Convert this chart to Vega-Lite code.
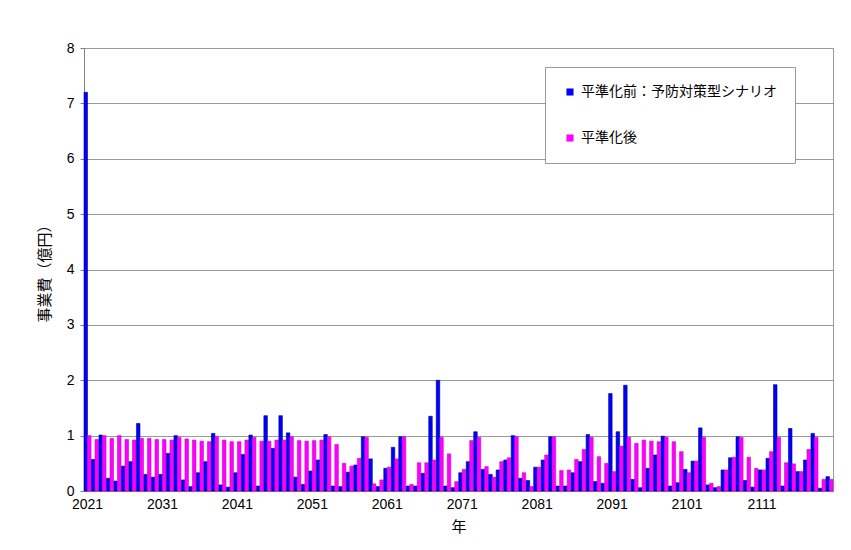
{
  "$schema": "https://vega.github.io/schema/vega-lite/v6.json",
  "autosize": {"type": "none"},
  "width": 749,
  "height": 443,
  "padding": {"left": 84, "top": 48, "right": 18, "bottom": 59},
  "background": "white",
  "config": {
    "view": {"stroke": "#9a9a9a", "strokeWidth": 1},
    "axis": {"labelFont": "Liberation Sans", "labelFontSize": 14, "labelColor": "#000", "titleFont": "Noto Sans CJK JP", "titleFontSize": 15, "titleFontWeight": "normal", "titleColor": "#000"}
  },
  "data": {
    "values": [
      {"year":2021,"before":7.2,"after":1.0},{"year":2022,"before":0.57,"after":0.93},{"year":2023,"before":1.01,"after":1.0},{"year":2024,"before":0.23,"after":0.95},{"year":2025,"before":0.18,"after":1.0},
      {"year":2026,"before":0.45,"after":0.93},{"year":2027,"before":0.53,"after":0.92},{"year":2028,"before":1.22,"after":0.95},{"year":2029,"before":0.3,"after":0.95},{"year":2030,"before":0.25,"after":0.93},
      {"year":2031,"before":0.3,"after":0.93},{"year":2032,"before":0.68,"after":0.92},{"year":2033,"before":1.0,"after":0.97},{"year":2034,"before":0.2,"after":0.94},{"year":2035,"before":0.08,"after":0.92},
      {"year":2036,"before":0.33,"after":0.9},{"year":2037,"before":0.53,"after":0.89},{"year":2038,"before":1.04,"after":0.98},{"year":2039,"before":0.11,"after":0.92},{"year":2040,"before":0.07,"after":0.89},
      {"year":2041,"before":0.33,"after":0.89},{"year":2042,"before":0.66,"after":0.92},{"year":2043,"before":1.01,"after":0.97},{"year":2044,"before":0.09,"after":0.9},{"year":2045,"before":1.36,"after":0.9},
      {"year":2046,"before":0.77,"after":0.92},{"year":2047,"before":1.36,"after":0.92},{"year":2048,"before":1.05,"after":0.98},{"year":2049,"before":0.25,"after":0.91},{"year":2050,"before":0.12,"after":0.9},
      {"year":2051,"before":0.36,"after":0.91},{"year":2052,"before":0.56,"after":0.92},{"year":2053,"before":1.02,"after":0.98},{"year":2054,"before":0.09,"after":0.84},{"year":2055,"before":0.08,"after":0.5},
      {"year":2056,"before":0.34,"after":0.45},{"year":2057,"before":0.47,"after":0.59},{"year":2058,"before":0.98,"after":0.97},{"year":2059,"before":0.58,"after":0.13},{"year":2060,"before":0.08,"after":0.2},
      {"year":2061,"before":0.41,"after":0.43},{"year":2062,"before":0.79,"after":0.58},{"year":2063,"before":0.98,"after":0.98},{"year":2064,"before":0.09,"after":0.12},{"year":2065,"before":0.09,"after":0.51},
      {"year":2066,"before":0.32,"after":0.51},{"year":2067,"before":1.35,"after":0.56},{"year":2068,"before":2.0,"after":0.97},{"year":2069,"before":0.09,"after":0.67},{"year":2070,"before":0.06,"after":0.17},
      {"year":2071,"before":0.33,"after":0.39},{"year":2072,"before":0.53,"after":0.91},{"year":2073,"before":1.07,"after":0.97},{"year":2074,"before":0.39,"after":0.44},{"year":2075,"before":0.3,"after":0.25},
      {"year":2076,"before":0.38,"after":0.53},{"year":2077,"before":0.56,"after":0.6},{"year":2078,"before":1.0,"after":0.98},{"year":2079,"before":0.23,"after":0.33},{"year":2080,"before":0.19,"after":0.08},
      {"year":2081,"before":0.43,"after":0.43},{"year":2082,"before":0.56,"after":0.65},{"year":2083,"before":0.98,"after":0.98},{"year":2084,"before":0.09,"after":0.37},{"year":2085,"before":0.09,"after":0.38},
      {"year":2086,"before":0.33,"after":0.57},{"year":2087,"before":0.53,"after":0.75},{"year":2088,"before":1.02,"after":0.97},{"year":2089,"before":0.17,"after":0.62},{"year":2090,"before":0.14,"after":0.5},
      {"year":2091,"before":1.76,"after":0.35},{"year":2092,"before":1.07,"after":0.81},{"year":2093,"before":1.91,"after":0.97},{"year":2094,"before":0.21,"after":0.86},{"year":2095,"before":0.06,"after":0.92},
      {"year":2096,"before":0.41,"after":0.9},{"year":2097,"before":0.65,"after":0.89},{"year":2098,"before":0.99,"after":0.97},{"year":2099,"before":0.09,"after":0.89},{"year":2100,"before":0.15,"after":0.71},
      {"year":2101,"before":0.39,"after":0.33},{"year":2102,"before":0.54,"after":0.54},{"year":2103,"before":1.14,"after":0.97},{"year":2104,"before":0.11,"after":0.14},{"year":2105,"before":0.06,"after":0.08},
      {"year":2106,"before":0.38,"after":0.38},{"year":2107,"before":0.6,"after":0.61},{"year":2108,"before":0.98,"after":0.97},{"year":2109,"before":0.19,"after":0.61},{"year":2110,"before":0.07,"after":0.41},
      {"year":2111,"before":0.38,"after":0.38},{"year":2112,"before":0.59,"after":0.71},{"year":2113,"before":1.92,"after":0.97},{"year":2114,"before":0.09,"after":0.51},{"year":2115,"before":1.13,"after":0.49},
      {"year":2116,"before":0.35,"after":0.35},{"year":2117,"before":0.56,"after":0.75},{"year":2118,"before":1.04,"after":0.97},{"year":2119,"before":0.05,"after":0.21},{"year":2120,"before":0.26,"after":0.21}
    ]
  },
  "transform": [{"fold": ["before", "after"], "as": ["series", "value"]}],
  "mark": {"type": "bar", "strokeWidth": 0.6},
  "encoding": {
    "x": {
      "field": "year", "type": "ordinal",
      "scale": {"paddingInner": 0.06, "paddingOuter": 0},
      "axis": {"title": "年", "labelAngle": 0, "values": [2021,2031,2041,2051,2061,2071,2081,2091,2101,2111], "bandPosition": 0, "ticks": false, "domainColor": "#808080", "labelPadding": 6, "titlePadding": 8, "grid": false}
    },
    "xOffset": {"field": "series", "type": "nominal", "sort": ["before", "after"]},
    "y": {
      "field": "value", "type": "quantitative",
      "scale": {"domain": [0, 8], "nice": false, "zero": true},
      "axis": {"title": "事業費（億円）", "values": [0,1,2,3,4,5,6,7,8], "labelOverlap": false, "gridColor": "#9a9a9a", "gridWidth": 1, "domainColor": "#808080", "tickColor": "#808080", "tickSize": 4, "labelPadding": 6, "titlePadding": 14}
    },
    "color": {
      "field": "series", "type": "nominal",
      "scale": {"domain": ["before", "after"], "range": ["#0000ff", "#ff00ff"]},
      "legend": {
        "title": null, "orient": "none", "legendX": 461, "legendY": 19, "direction": "vertical",
        "labelExpr": "datum.value == 'before' ? '平準化前：予防対策型シナリオ' : '平準化後'",
        "labelFont": "Noto Sans CJK JP", "labelFontSize": 14, "labelColor": "#000",
        "symbolType": "square", "symbolSize": 50, "symbolStrokeWidth": 0,
        "rowPadding": 32, "padding": 18, "strokeColor": "#9a9a9a", "fillColor": "white", "labelOffset": 4, "labelLimit": 400
      }
    },
    "stroke": {
      "field": "series", "type": "nominal",
      "scale": {"domain": ["before", "after"], "range": ["#00008b", "#d000d0"]},
      "legend": null
    }
  }
}
